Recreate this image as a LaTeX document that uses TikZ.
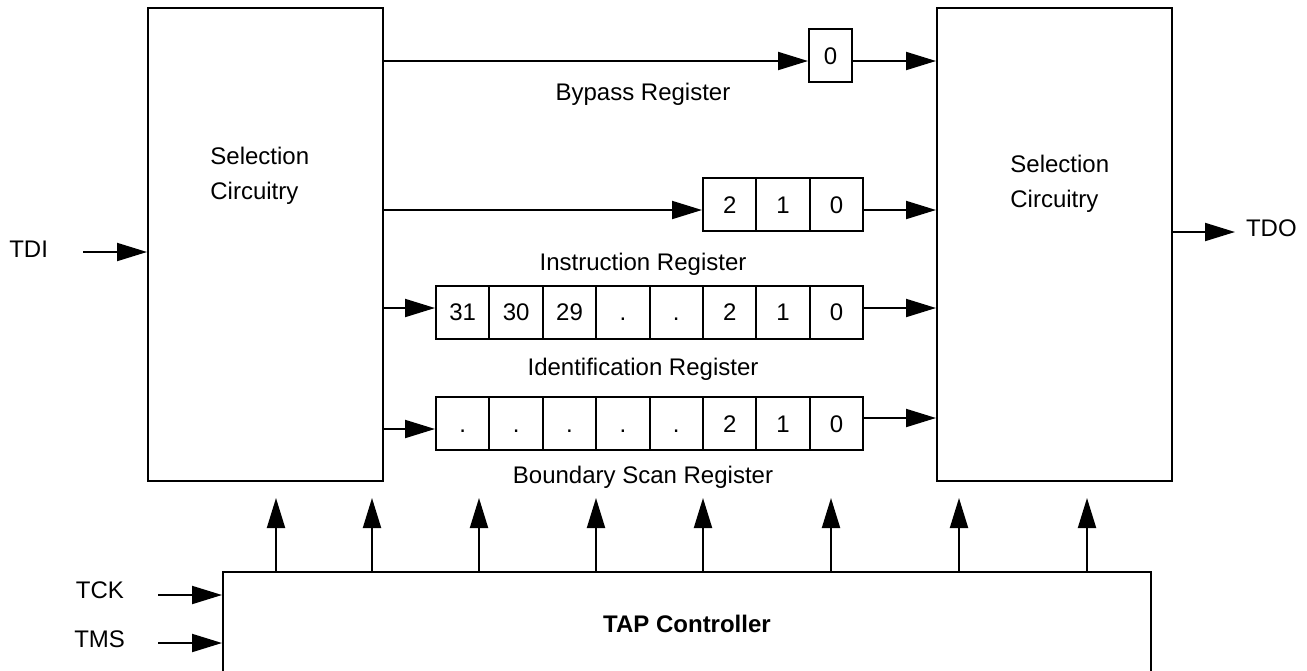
\documentclass[tikz,border=0pt]{standalone}
\usepackage{fontspec}
\setmainfont{Liberation Sans}
\usetikzlibrary{arrows.meta}

\begin{document}
\begin{tikzpicture}[x=0.5pt,y=-0.5pt,
		every node/.style={font=\fontsize{12}{17.5}\selectfont},
		blk/.style={rectangle,draw,line width=1pt,inner sep=0pt},
		cell/.style={rectangle,draw,line width=1pt,inner sep=0pt,minimum width=26.7pt,minimum height=26.7pt,text height=8.6pt,text depth=0pt},
		arr/.style={-{Triangle[length=15pt,width=9pt]},line width=1pt}]
				\clip (0,0) rectangle (1307,670);
				\node (selL) [blk,minimum width=117.5pt,minimum height=236.5pt] at (265.5,244.5) {};
				\node (selR) [blk,minimum width=117.5pt,minimum height=236.5pt] at (1054.5,244.5) {};
				\node (tap) [blk,minimum width=464pt,minimum height=51.5pt] at (687,623.5) {\bfseries TAP Controller};
				\node (selLtxt) [anchor=north west,inner sep=0pt,align=left] at (210,147) {Selection\\Circuitry};
				\node (selRtxt) [anchor=north west,inner sep=0pt,align=left] at (1010,155) {Selection\\Circuitry};
				\node (byp) [cell,minimum width=21.5pt,minimum height=26.5pt] at (830.5,55.5) {0};
				\foreach \t [count=\i] in {2,1,0}
					\node (ir\i) [cell] at ({729.7+53.4*(\i-1)},204.5) {\t};
				\foreach \t [count=\i] in {31,30,29,.,.,2,1,0}
					\node (id\i) [cell] at ({462.7+53.4*(\i-1)},312.3) {\t};
				\foreach \t [count=\i] in {.,.,.,.,.,2,1,0}
					\node (bs\i) [cell] at ({462.7+53.4*(\i-1)},423.7) {\t};
				\node (bypl) [anchor=base] at (643,100) {Bypass Register};
				\node (irl) [anchor=base] at (643,270) {Instruction Register};
				\node (idl) [anchor=base] at (643,375) {Identification Register};
				\node (bsl) [anchor=base] at (643,483) {Boundary Scan Register};
				\node (tdi) [anchor=base east] at (55,257) {TDI};
				\node (tdo) [anchor=base west] at (1239,236) {TDO};
				\node (tck) [anchor=base east] at (131,598) {TCK};
				\node (tms) [anchor=base east] at (132,647) {TMS};
				\coordinate (tdiS) at (83,252);
				\coordinate (tdoE) at (1235,232);
				\coordinate (tckS) at (158,595);
				\coordinate (tmsS) at (158,643);
				\draw [arr] (tdiS) -- (selL.west |- tdiS);
				\draw [arr] (selR.east |- tdoE) -- (tdoE);
				\draw [arr] (tckS) -- (tap.west |- tckS);
				\draw [arr] (tmsS) -- (tap.west |- tmsS);
				\draw [arr] (selL.east |- 0,61) -- (byp.west |- 0,61);
				\draw [arr] (byp.east |- 0,61) -- (selR.west |- 0,61);
				\draw [arr] (selL.east |- 0,210) -- (ir1.west |- 0,210);
				\draw [arr] (ir3.east |- 0,210) -- (selR.west |- 0,210);
				\draw [arr] (selL.east |- 0,308) -- (id1.west |- 0,308);
				\draw [arr] (id8.east |- 0,308) -- (selR.west |- 0,308);
				\draw [arr] (selL.east |- 0,429) -- (bs1.west |- 0,429);
				\draw [arr] (bs8.east |- 0,418) -- (selR.west |- 0,418);
				\foreach \x [count=\i] in {276,372,479,596,703,831,959,1087} {
					\coordinate (up\i) at (\x,498);
					\draw [arr] (tap.north -| up\i) -- (up\i);
				}
			\end{tikzpicture}
\end{document}
